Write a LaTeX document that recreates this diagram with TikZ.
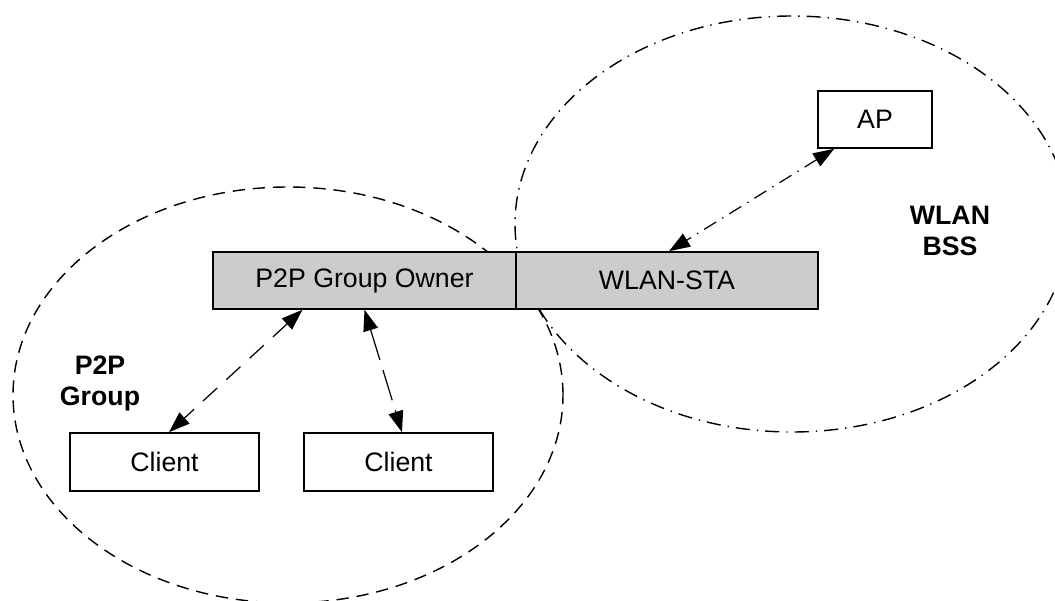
\documentclass[tikz,border=0pt]{standalone}
\usepackage{fontspec}
\setmainfont{Liberation Sans}
\usetikzlibrary{arrows.meta}
\tikzset{
  unit/.style = {draw, line width=0.9pt, minimum height=1.14cm, inner sep=0pt,
    font=\fontsize{15.2}{17.6}\selectfont},
  role/.style = {unit, fill=black!20, minimum width=6.05cm},
  station/.style = {unit, fill=white},
  tag/.style = {align=center, font=\fontsize{15.2}{17.6}\selectfont\bfseries},
  link/.style = {{Triangle[length=12pt,width=8.5pt]}-{Triangle[length=12pt,width=8.5pt]}, line width=0.7pt},
}
\begin{document}
\begin{tikzpicture}
    \useasboundingbox (0,0) rectangle (21.1,12);
    \clip (0,0) rectangle (21.1,12);
    % the two networks
    \draw[line width=0.8pt, dash pattern=on 7pt off 4.5pt] (5.76,4.1) ellipse (5.5cm and 4.16cm);
    \draw[line width=0.8pt, dash pattern=on 8pt off 4pt on 0.8pt off 4pt] (15.84,7.52) ellipse (5.54cm and 4.16cm);
    % devices
    \node[role] (owner) at (7.29,6.39) {P2P Group Owner};
    \node[role] (sta) at (13.34,6.39) {WLAN-STA};
    \node[station, minimum width=2.28cm] (ap) at (17.5,9.61) {AP};
    \node[station, minimum width=3.78cm, minimum height=1.16cm] (cla) at (3.29,2.76) {Client};
    \node[station, minimum width=3.78cm, minimum height=1.16cm] (clb) at (7.97,2.76) {Client};
    \node[tag] (p2p) at (2.0,4.34) {P2P\\Group};
    \node[tag] (bss) at (19.0,7.38) {WLAN\\BSS};
    % links
    \draw[link, dash pattern=on 11pt off 7pt] ([xshift=1.8cm]owner.south west) -- ([xshift=0.09cm]cla.north);
    \draw[link, dash pattern=on 18pt off 6pt] (owner.south) -- ([xshift=0.07cm]clb.north);
    \draw[link, dash pattern=on 8pt off 4pt on 0.8pt off 4pt] ([xshift=0.34cm]ap.south west) -- ([xshift=0.04cm]sta.north);
\end{tikzpicture}
\end{document}
